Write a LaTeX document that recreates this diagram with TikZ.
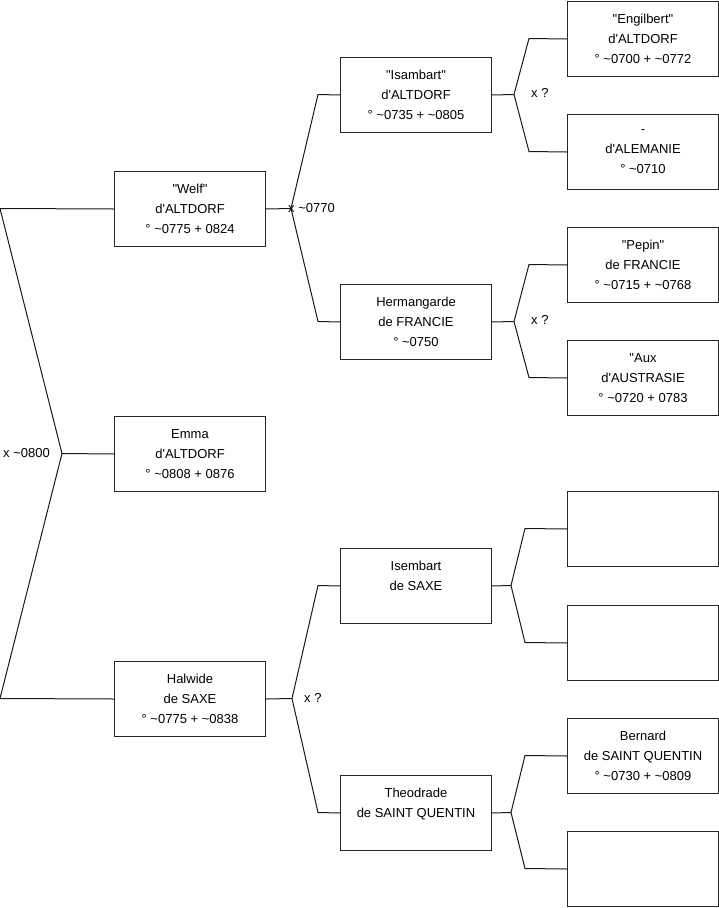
\documentclass[tikz,border=0pt]{standalone}
\usepackage{fontspec}
\setmainfont{Liberation Sans}
\newcommand{\dq}{\textquotedbl}
\newcommand{\sq}{\textquotesingle}
\begin{document}
\begin{tikzpicture}[x=1pt,y=-1pt,
  person/.style={draw=black!85,line width=1pt,anchor=north west,minimum width=151pt,minimum height=75pt,inner sep=0pt,align=center,font=\fontsize{13}{20}\selectfont},
  link/.style={draw=black!90,line width=1pt},
  lab/.style={anchor=west,inner sep=0pt,font=\fontsize{13}{16}\selectfont}]
\useasboundingbox (0,0) rectangle (719,908);
% column 1
\node[person] (welf) at (114,171) {\dq Welf\dq\\d\sq ALTDORF\\° \textasciitilde 0775 + 0824};
\node[person] (emma) at (114,416) {Emma\\d\sq ALTDORF\\° \textasciitilde 0808 + 0876};
\node[person] (halwide) at (114,661) {Halwide\\de SAXE\\° \textasciitilde 0775 + \textasciitilde 0838};
% column 2
\node[person] (isambart) at (340,57) {\dq Isambart\dq\\d\sq ALTDORF\\° \textasciitilde 0735 + \textasciitilde 0805};
\node[person] (herman) at (340,284) {Hermangarde\\de FRANCIE\\° \textasciitilde 0750};
\node[person] (isembart) at (340,548) {Isembart\\de SAXE\\\mbox{}};
\node[person] (theodrade) at (340,775) {Theodrade\\de SAINT QUENTIN\\\mbox{}};
% column 3
\node[person] (engilbert) at (567,1) {\dq Engilbert\dq\\d\sq ALTDORF\\° \textasciitilde 0700 + \textasciitilde 0772};
\node[person] (alemanie) at (567,114) {-\\d\sq ALEMANIE\\° \textasciitilde 0710};
\node[person] (pepin) at (567,227) {\dq Pepin\dq\\de FRANCIE\\° \textasciitilde 0715 + \textasciitilde 0768};
\node[person] (aux) at (567,340) {\dq Aux\\d\sq AUSTRASIE\\° \textasciitilde 0720 + 0783};
\node[person] (e1) at (567,491) {};
\node[person] (e2) at (567,605) {};
\node[person] (bernard) at (567,718) {Bernard\\de SAINT QUENTIN\\° \textasciitilde 0730 + \textasciitilde 0809};
\node[person] (e3) at (567,831) {};
% coordinates
\coordinate (a1) at (0,208.5);
\coordinate (a2) at (62,453.5);
\coordinate (a3) at (0,698.5);
\coordinate (b1) at (318,94.5);
\coordinate (b2) at (291,208.5);
\coordinate (b3) at (318,321.5);
\coordinate (c1) at (529,38.5);
\coordinate (c2) at (514,94.5);
\coordinate (c3) at (529,151.5);
\coordinate (d1) at (529,264.5);
\coordinate (d2) at (514,321.5);
\coordinate (d3) at (529,377.5);
\coordinate (f1) at (318,585.5);
\coordinate (f2) at (292,698.5);
\coordinate (f3) at (318,812.5);
\coordinate (g1) at (525,528.5);
\coordinate (g2) at (511,585.5);
\coordinate (g3) at (525,642.5);
\coordinate (h1) at (525,755.5);
\coordinate (h2) at (511,812.5);
\coordinate (h3) at (525,868.5);
% connectors
\draw[link] (welf.west) -- (a1) -- (a2) -- (a3) -- (halwide.west);
\draw[link] (a2) -- (emma.west);
\draw[link] (welf.east) -- (b2);
\draw[link] (isambart.west) -- (b1) -- (b2) -- (b3) -- (herman.west);
\draw[link] (isambart.east) -- (c2);
\draw[link] (engilbert.west) -- (c1) -- (c2) -- (c3) -- (alemanie.west);
\draw[link] (herman.east) -- (d2);
\draw[link] (pepin.west) -- (d1) -- (d2) -- (d3) -- (aux.west);
\draw[link] (halwide.east) -- (f2);
\draw[link] (isembart.west) -- (f1) -- (f2) -- (f3) -- (theodrade.west);
\draw[link] (isembart.east) -- (g2);
\draw[link] (e1.west) -- (g1) -- (g2) -- (g3) -- (e2.west);
\draw[link] (theodrade.east) -- (h2);
\draw[link] (bernard.west) -- (h1) -- (h2) -- (h3) -- (e3.west);
% labels
\node[lab] (l1) at (3,453) {x \textasciitilde 0800};
\node[lab] (l2) at (288,208) {x \textasciitilde 0770};
\node[lab] (l3) at (531,93) {x ?};
\node[lab] (l4) at (531,320) {x ?};
\node[lab] (l5) at (304,698) {x ?};
\end{tikzpicture}
\end{document}
